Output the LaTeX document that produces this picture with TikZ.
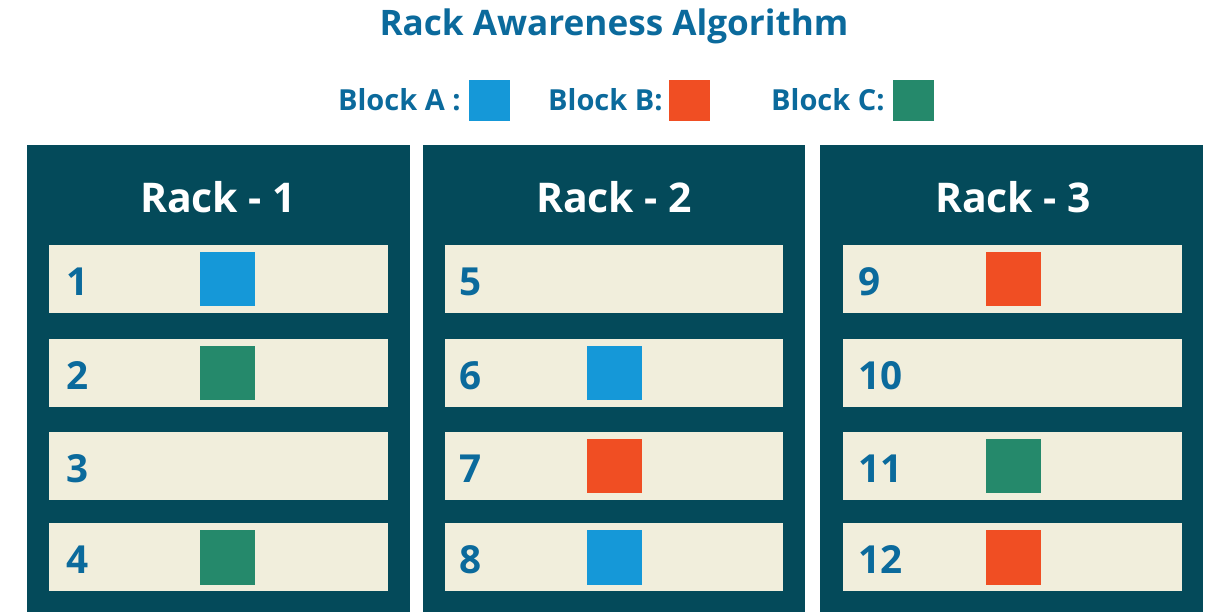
\documentclass[tikz,border=0pt]{standalone}
\usepackage{fontspec}
\setmainfont{Open Sans}
\usepackage{tikz}
\usetikzlibrary{positioning,calc}
\definecolor{ink}{RGB}{11,106,156}
\definecolor{rackbg}{RGB}{4,74,90}
\definecolor{slot}{RGB}{241,238,220}
\definecolor{cA}{RGB}{21,152,216}
\definecolor{cB}{RGB}{240,78,35}
\definecolor{cC}{RGB}{37,137,107}
\tikzset{
  rack/.style={fill=rackbg,draw=none,minimum width=7.66cm,minimum height=9.34cm,inner sep=0pt},
  rackname/.style={text=white,font=\fontsize{23.3}{28}\selectfont\bfseries,anchor=base,inner sep=0pt},
  slotbox/.style={fill=slot,draw=none,minimum width=6.78cm,minimum height=1.36cm,inner sep=0pt},
  num/.style={text=ink,font=\fontsize{22}{26}\selectfont\bfseries,anchor=base west,inner sep=0pt},
  blk/.style={draw=none,minimum size=1.1cm,inner sep=0pt},
  key/.style={draw=none,minimum size=0.82cm,inner sep=0pt},
  keytxt/.style={text=ink,font=\fontsize{16.5}{19}\selectfont\bfseries,anchor=base east,inner sep=0pt},
}

\begin{document}
\begin{tikzpicture}[x=0.02cm,y=-0.02cm]
  \useasboundingbox (0,0) rectangle (1211,612);
  % title and legend
  \node[text=ink,font=\fontsize{20}{24}\selectfont\bfseries,anchor=base,inner sep=0pt] (title) at (614,35) {Rack Awareness Algorithm};
  \node[key,fill=cA] (kA) at (489.5,100.5) {};
  \node[key,fill=cB] (kB) at (689.5,100.5) {};
  \node[key,fill=cC] (kC) at (913.5,100.5) {};
  \node[keytxt] (tA) at (461,110) {Block A :};
  \node[keytxt] (tB) at (663,110) {Block B:};
  \node[keytxt] (tC) at (885,110) {Block C:};
  % racks
  \node[rack] (rk1) at (218.5,378.5) {};
  \node[rack] (rk2) at (614,378.5) {};
  \node[rack] (rk3) at (1011.5,378.5) {};
  \node[rackname] (n1) at (218,212) {Rack - 1};
  \node[rackname] (n2) at (614,212) {Rack - 2};
  \node[rackname] (n3) at (1013,212) {Rack - 3};
  % rack 1 slots
  \node[slotbox] (s1) at (218.5,279) {};
  \node[slotbox] (s2) at (218.5,373) {};
  \node[slotbox] (s3) at (218.5,466) {};
  \node[slotbox] (s4) at (218.5,557) {};
  % rack 2 slots
  \node[slotbox] (s5) at (614,279) {};
  \node[slotbox] (s6) at (614,373) {};
  \node[slotbox] (s7) at (614,466) {};
  \node[slotbox] (s8) at (614,557) {};
  % rack 3 slots
  \node[slotbox] (s9) at (1012.5,279) {};
  \node[slotbox] (s10) at (1012.5,373) {};
  \node[slotbox] (s11) at (1012.5,466) {};
  \node[slotbox] (s12) at (1012.5,557) {};
  % slot numbers
  \node[num] at ($(s1.west)+(17,16)$) {1};
  \node[num] at ($(s2.west)+(17,16)$) {2};
  \node[num] at ($(s3.west)+(17,16)$) {3};
  \node[num] at ($(s4.west)+(17,16)$) {4};
  \node[num] at ($(s5.west)+(15,16)$) {5};
  \node[num] at ($(s6.west)+(15,16)$) {6};
  \node[num] at ($(s7.west)+(15,16)$) {7};
  \node[num] at ($(s8.west)+(15,16)$) {8};
  \node[num] at ($(s9.west)+(15,16)$) {9};
  \node[num] at ($(s10.west)+(15,16)$) {10};
  \node[num] at ($(s11.west)+(15,16)$) {11};
  \node[num] at ($(s12.west)+(15,16)$) {12};
  % stored blocks
  \node[blk,fill=cA] (b1) at (227.5,279) {};
  \node[blk,fill=cC] (b2) at (227.5,373) {};
  \node[blk,fill=cC] (b4) at (227.5,557) {};
  \node[blk,fill=cA] (b6) at (614.5,373) {};
  \node[blk,fill=cB] (b7) at (614.5,466) {};
  \node[blk,fill=cA] (b8) at (614.5,557) {};
  \node[blk,fill=cB] (b9) at (1013.5,279) {};
  \node[blk,fill=cC] (b11) at (1013.5,466) {};
  \node[blk,fill=cB] (b12) at (1013.5,557) {};
\end{tikzpicture}
\end{document}
